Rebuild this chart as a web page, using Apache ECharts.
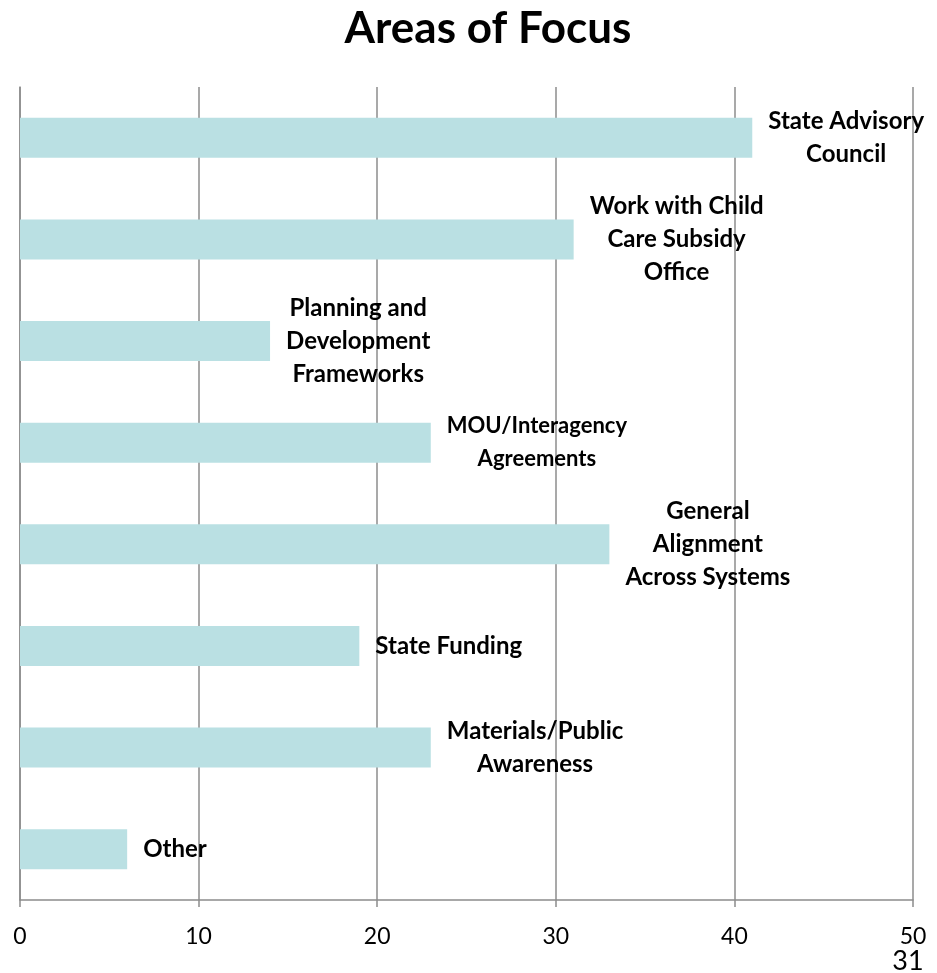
<!DOCTYPE html>
<html>
<head>
<meta charset="utf-8">
<script src="https://cdn.jsdelivr.net/npm/echarts@6/dist/echarts.min.js"></script>
<style>
  html, body { margin: 0; padding: 0; background: #fff; }
  #chart { width: 937px; height: 973px; }
</style>
</head>
<body>
<div id="chart"></div>
<script>
// Survey responses by focus area (line breaks as shown next to each bar)
const categories = [
  'State Advisory\nCouncil',
  'Work with Child\nCare Subsidy\nOffice',
  'Planning and\nDevelopment\nFrameworks',
  'MOU/Interagency\nAgreements',
  'General\nAlignment\nAcross Systems',
  'State Funding',
  'Materials/Public\nAwareness',
  'Other'
];
const counts = [41, 31, 14, 23, 33, 19, 23, 6];
const axisTicks = [0, 10, 20, 30, 40, 50];
const chartTitle = 'Areas of Focus';
const pageNumber = '31';

const FONT = 'Lato, "Liberation Sans", sans-serif';
const GRID_GRAY = '#8c8c8c';

const chart = echarts.init(document.getElementById('chart'), null, { renderer: 'canvas' });

// The MOU label is set slightly smaller so its long first line stays compact
function labelFormatter(p) {
  const key = p.name.indexOf('MOU/') === 0 ? 'sm' : 'c';
  return p.name.split('\n').map(line => '{' + key + '|' + line + '}').join('\n');
}

chart.setOption({
  animation: false,
  backgroundColor: '#fff',
  grid: { left: 20, right: 24, top: 87, bottom: 73, containLabel: false },
  xAxis: {
    type: 'value',
    min: axisTicks[0],
    max: axisTicks[axisTicks.length - 1],
    interval: axisTicks[1] - axisTicks[0],
    axisLine: { show: true, lineStyle: { color: GRID_GRAY, width: 1.5 } },
    axisTick: { show: true, length: 7, lineStyle: { color: GRID_GRAY, width: 1.5 } },
    splitLine: { show: true, lineStyle: { color: GRID_GRAY, width: 1.5 } },
    axisLabel: { color: '#000', fontFamily: FONT, fontSize: 23, margin: 25 }
  },
  yAxis: {
    type: 'category',
    data: categories,
    inverse: true,
    axisLine: { show: true, lineStyle: { color: GRID_GRAY, width: 1.5 } },
    axisTick: { show: false },
    axisLabel: { show: false },
    splitLine: { show: false }
  },
  series: [{
    type: 'bar',
    data: counts,
    barWidth: 40,
    itemStyle: { color: '#BAE0E3' },
    label: {
      show: true,
      position: 'right',
      distance: 16,
      formatter: labelFormatter,
      rich: {
        c: { fontFamily: FONT, fontWeight: 'bold', fontSize: 24, lineHeight: 33, align: 'center', color: '#000' },
        sm: { fontFamily: FONT, fontWeight: 'bold', fontSize: 22, lineHeight: 33, align: 'center', color: '#000' }
      }
    }
  }],
  graphic: [
    {
      type: 'text',
      x: 488, y: 29,
      style: { text: chartTitle, fontFamily: FONT, fontWeight: 'bold', fontSize: 44, fill: '#000', align: 'center', verticalAlign: 'middle' }
    },
    {
      type: 'text',
      x: 908, y: 961,
      style: { text: pageNumber, fontFamily: FONT, fontSize: 27, fill: '#000', align: 'center', verticalAlign: 'middle' }
    }
  ]
});
</script>
</body>
</html>
